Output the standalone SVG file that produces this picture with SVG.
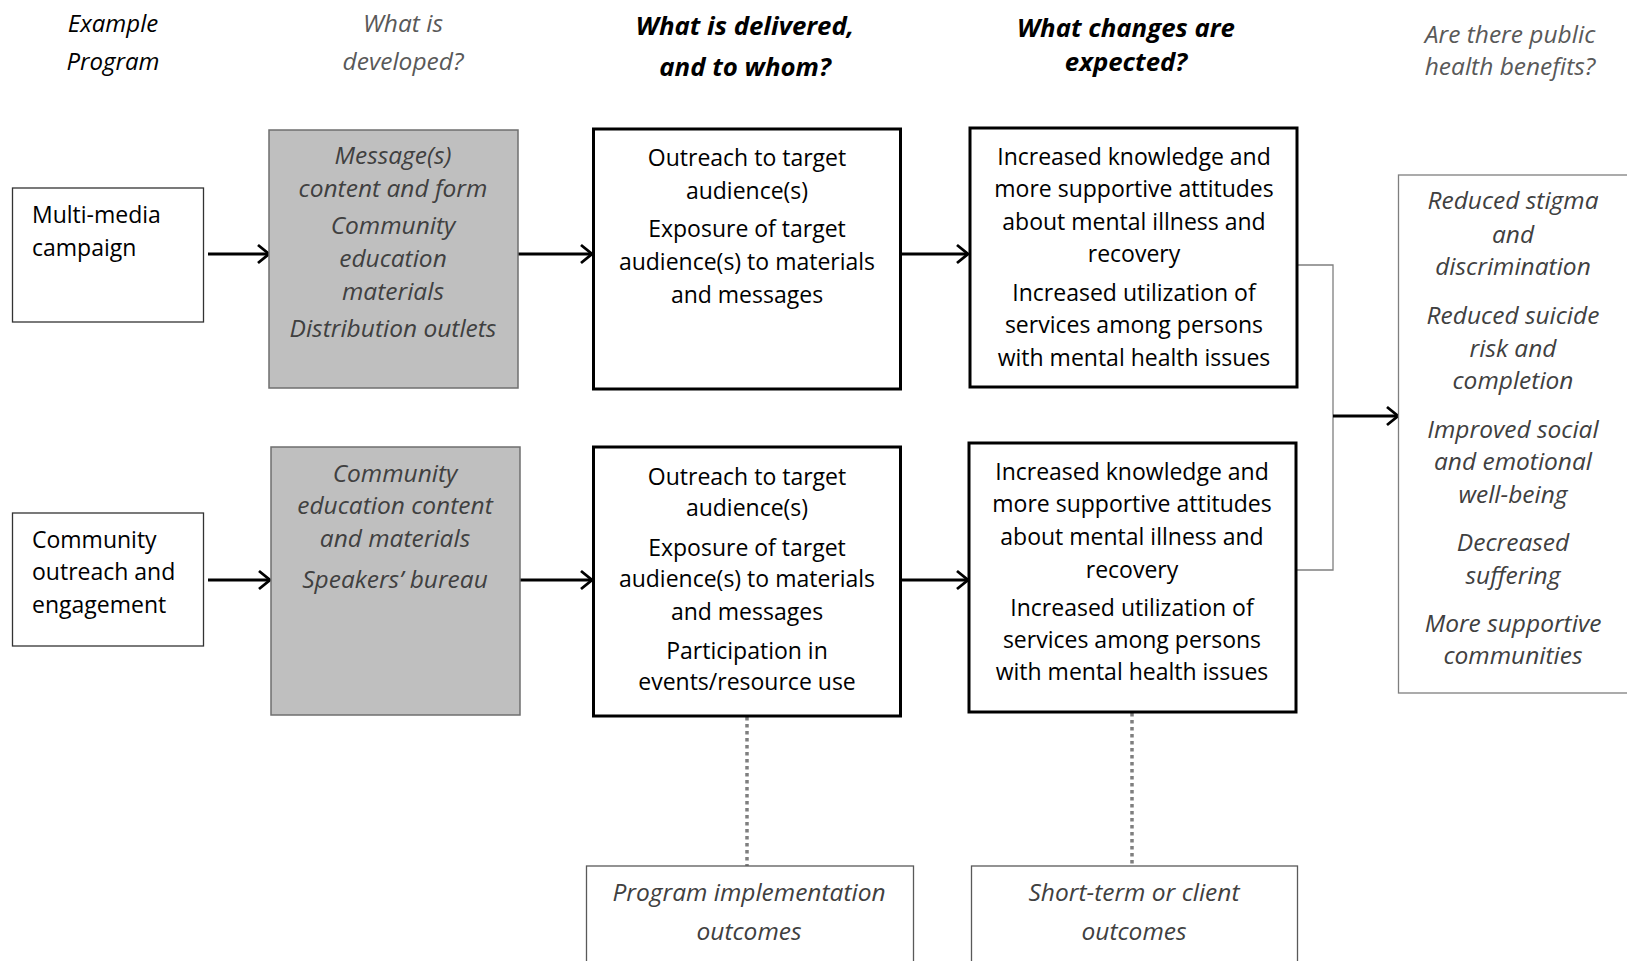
<svg xmlns="http://www.w3.org/2000/svg" width="1627" height="961" viewBox="0 0 1627 961">
<style>
text{font-family:"Open Sans","Noto Sans","Liberation Sans",sans-serif;font-size:23px}
.c{text-anchor:middle}
.hi{font-style:italic;fill:#000;font-size:24px}
.hg{font-style:italic;fill:#595959;font-size:24.5px}
.hb{font-style:italic;font-weight:bold;fill:#000;font-size:25.8px}
.gi{font-style:italic;fill:#404040;font-size:24.5px}
.n{fill:#000}
.plain{fill:#fff;stroke:#333;stroke-width:1.3}
.grey{fill:#bfbfbf;stroke:#6f6f6f;stroke-width:1.5}
.thick{fill:#fff;stroke:#000;stroke-width:3}
.thin{fill:#fff;stroke:#7f7f7f;stroke-width:1.3}
.btm{fill:#fff;stroke:#595959;stroke-width:1.3}
.arr{stroke:#000;stroke-width:3;fill:none;marker-end:url(#ah)}
.dot{stroke:#7f7f7f;stroke-width:3.5;stroke-dasharray:3.5 3.5;fill:none}
.brk{stroke:#7f7f7f;stroke-width:1.3;fill:none}
</style>
<defs>
<marker id="ah" viewBox="0 0 14 22" refX="12.5" refY="11" markerWidth="14" markerHeight="22" markerUnits="userSpaceOnUse" orient="auto">
<path d="M1.5,2 L12.5,11 L1.5,20" fill="none" stroke="#000" stroke-width="2.8"/>
</marker>
</defs>
<g id="headers">
<text class="hi c" x="113" y="32">Example</text>
<text class="hi c" x="113" y="70">Program</text>
<text class="hg c" x="403" y="32">What is</text>
<text class="hg c" x="403" y="70">developed?</text>
<text class="hb c" x="745" y="35">What is delivered,</text>
<text class="hb c" x="745" y="76">and to whom?</text>
<text class="hb c" x="1126" y="37">What changes are</text>
<text class="hb c" x="1126" y="71">expected?</text>
<text class="hg c" x="1510" y="43">Are there public</text>
<text class="hg c" x="1510" y="75">health benefits?</text>
</g>
<g id="connectors">
<line class="arr" x1="208" y1="254" x2="269" y2="254"/>
<line class="arr" x1="518" y1="254" x2="592" y2="254"/>
<line class="arr" x1="901" y1="254" x2="968" y2="254"/>
<line class="arr" x1="208" y1="580" x2="270" y2="580"/>
<line class="arr" x1="520" y1="580" x2="592" y2="580"/>
<line class="arr" x1="901" y1="580" x2="968" y2="580"/>
<polyline class="brk" points="1297,265 1333,265 1333,570 1296,570"/>
<line class="arr" x1="1333" y1="416" x2="1398" y2="416"/>
<line class="dot" x1="747" y1="717" x2="747" y2="866"/>
<line class="dot" x1="1132" y1="713" x2="1132" y2="866"/>
</g>
<g id="prog1">
<rect class="plain" x="12.5" y="188" width="191" height="134"/>
<text class="n" x="32" y="223">Multi-media</text>
<text class="n" x="32" y="256">campaign</text>
</g>
<g id="prog2">
<rect class="plain" x="12.5" y="513" width="191" height="133"/>
<text class="n" x="32" y="548">Community</text>
<text class="n" x="32" y="580">outreach and</text>
<text class="n" x="32" y="613">engagement</text>
</g>
<g id="dev1">
<rect class="grey" x="269" y="130" width="249" height="258"/>
<text class="gi c" x="393" y="164">Message(s)</text>
<text class="gi c" x="393" y="197">content and form</text>
<text class="gi c" x="393" y="234">Community</text>
<text class="gi c" x="393" y="267">education</text>
<text class="gi c" x="393" y="300">materials</text>
<text class="gi c" x="393" y="337">Distribution outlets</text>
</g>
<g id="dev2">
<rect class="grey" x="271" y="447" width="249" height="268"/>
<text class="gi c" x="395" y="482">Community</text>
<text class="gi c" x="395" y="514">education content</text>
<text class="gi c" x="395" y="547">and materials</text>
<text class="gi c" x="395" y="588">Speakers’ bureau</text>
</g>
<g id="del1">
<rect class="thick" x="593.5" y="129" width="307" height="260"/>
<text class="n c" x="747" y="166">Outreach to target</text>
<text class="n c" x="747" y="199">audience(s)</text>
<text class="n c" x="747" y="237">Exposure of target</text>
<text class="n c" x="747" y="270">audience(s) to materials</text>
<text class="n c" x="747" y="303">and messages</text>
</g>
<g id="del2">
<rect class="thick" x="593.5" y="447" width="307" height="269"/>
<text class="n c" x="747" y="485">Outreach to target</text>
<text class="n c" x="747" y="516">audience(s)</text>
<text class="n c" x="747" y="556">Exposure of target</text>
<text class="n c" x="747" y="587">audience(s) to materials</text>
<text class="n c" x="747" y="620">and messages</text>
<text class="n c" x="747" y="659">Participation in</text>
<text class="n c" x="747" y="690">events/resource use</text>
</g>
<g id="chg1">
<rect class="thick" x="970" y="128" width="327" height="259"/>
<text class="n c" x="1134" y="165">Increased knowledge and</text>
<text class="n c" x="1134" y="197">more supportive attitudes</text>
<text class="n c" x="1134" y="230">about mental illness and</text>
<text class="n c" x="1134" y="262">recovery</text>
<text class="n c" x="1134" y="301">Increased utilization of</text>
<text class="n c" x="1134" y="333">services among persons</text>
<text class="n c" x="1134" y="366">with mental health issues</text>
</g>
<g id="chg2">
<rect class="thick" x="969" y="443" width="327" height="269"/>
<text class="n c" x="1132" y="480">Increased knowledge and</text>
<text class="n c" x="1132" y="512">more supportive attitudes</text>
<text class="n c" x="1132" y="545">about mental illness and</text>
<text class="n c" x="1132" y="578">recovery</text>
<text class="n c" x="1132" y="616">Increased utilization of</text>
<text class="n c" x="1132" y="648">services among persons</text>
<text class="n c" x="1132" y="680">with mental health issues</text>
</g>
<g id="benefits">
<rect class="thin" x="1398.5" y="175" width="240" height="518"/>
<text class="gi c" x="1513" y="209">Reduced stigma</text>
<text class="gi c" x="1513" y="243">and</text>
<text class="gi c" x="1513" y="275">discrimination</text>
<text class="gi c" x="1513" y="324">Reduced suicide</text>
<text class="gi c" x="1513" y="357">risk and</text>
<text class="gi c" x="1513" y="389">completion</text>
<text class="gi c" x="1513" y="438">Improved social</text>
<text class="gi c" x="1513" y="470">and emotional</text>
<text class="gi c" x="1513" y="503">well-being</text>
<text class="gi c" x="1513" y="551">Decreased</text>
<text class="gi c" x="1513" y="584">suffering</text>
<text class="gi c" x="1513" y="632">More supportive</text>
<text class="gi c" x="1513" y="664">communities</text>
</g>
<g id="impl">
<rect class="btm" x="586.5" y="866" width="327" height="110"/>
<text class="gi c" x="749" y="901">Program implementation</text>
<text class="gi c" x="749" y="940">outcomes</text>
</g>
<g id="short">
<rect class="btm" x="971.5" y="866" width="326" height="110"/>
<text class="gi c" x="1134" y="901">Short-term or client</text>
<text class="gi c" x="1134" y="940">outcomes</text>
</g>
</svg>
